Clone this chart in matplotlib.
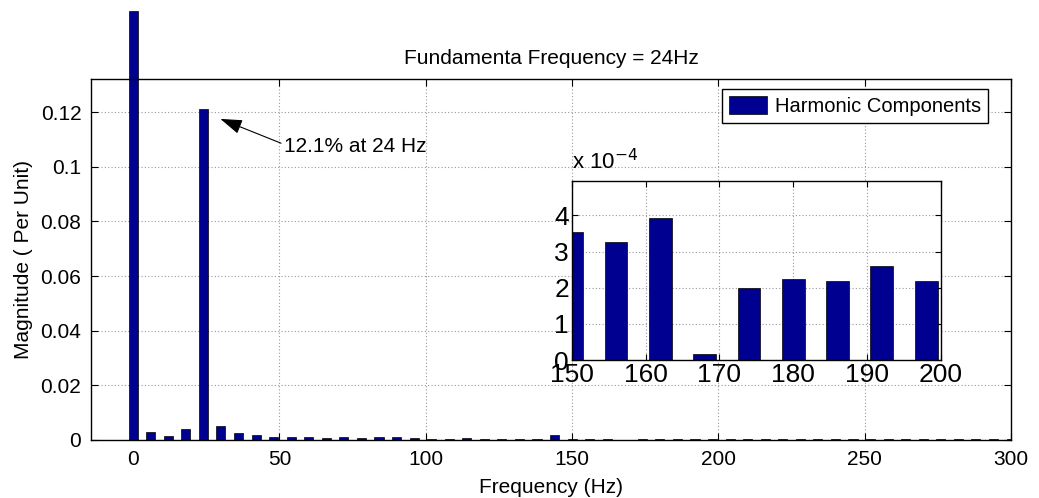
import matplotlib
matplotlib.use("Agg")
import matplotlib.pyplot as plt
import numpy as np

plt.rcParams['font.family'] = ['Liberation Sans', 'DejaVu Sans']

# Spectrum of the measured signal, 6 Hz resolution (per-unit magnitudes)
freq_hz = np.arange(0, 301, 6)
magnitude_pu = [
    0.157, 0.0030, 0.0016, 0.0040, 0.121, 0.0050, 0.0024, 0.0020, 0.0010, 0.0010,
    0.0010, 0.0006, 0.0010, 0.0006, 0.0010, 0.0010, 0.0006, 0.0005, 0.0005, 0.0006,
    0.0005, 0.0005, 0.0005, 0.0005, 0.0017, 0.000354, 0.000327, 0.000393, 0.000017, 0.000200,
    0.000225, 0.000218, 0.000260, 0.000218, 0.00030, 0.00028, 0.00032, 0.00027, 0.00030, 0.00029,
    0.00031, 0.00028, 0.00030, 0.00027, 0.00029, 0.00030, 0.00028, 0.00031, 0.00029, 0.00028,
    0.00030,
]
x_ticks = [0, 50, 100, 150, 200, 250, 300]
y_ticks = [0, 0.02, 0.04, 0.06, 0.08, 0.1, 0.12]
y_tick_labels = ['0', '0.02', '0.04', '0.06', '0.08', '0.1', '0.12']
inset_x_ticks = [150, 160, 170, 180, 190, 200]
inset_y_ticks = [0, 1e-4, 2e-4, 3e-4, 4e-4]
inset_y_labels = ['0', '1', '2', '3', '4']

bar_color = '#000090'
grid_kw = dict(color='0.6', linestyle=(0, (1, 2)), linewidth=0.8)

fig = plt.figure(figsize=(10.39, 4.98), dpi=100)
ax = fig.add_axes([0.0876, 0.1165, 0.8855, 0.7243])

bars = ax.bar(freq_hz, magnitude_pu, width=3.1, color=bar_color,
              edgecolor='black', linewidth=0.5, label='Harmonic Components',
              zorder=2)
bars[0].set_clip_on(False)

ax.set_xlim(-14.4, 300)
ax.set_ylim(0, 0.132)
ax.set_xticks(x_ticks)
ax.set_yticks(y_ticks)
ax.set_yticklabels(y_tick_labels)
ax.grid(True, **grid_kw)
ax.set_axisbelow(True)
ax.tick_params(direction='in', top=True, right=True, length=5, width=0.8,
               labelsize=15, pad=7)
for s in ax.spines.values():
    s.set_linewidth(1.0)

ax.set_xlabel('Frequency (Hz)', fontsize=15, labelpad=7)
ax.set_ylabel('Magnitude ( Per Unit)', fontsize=15, labelpad=5)
ax.set_title('Fundamenta Frequency = 24Hz', fontsize=15, pad=11)

ax.annotate('12.1% at 24 Hz', xy=(29.8, 0.1175), xytext=(51.5, 0.1075),
            fontsize=15, ha='left', va='center',
            arrowprops=dict(arrowstyle='-|>,head_length=0.9,head_width=0.3',
                            color='black', lw=0.8, relpos=(0, 0.6),
                            shrinkA=0, shrinkB=0))

leg = ax.legend(loc='upper right', bbox_to_anchor=(0.975, 0.972),
                borderaxespad=0, fontsize=14.5, fancybox=False, framealpha=1,
                edgecolor='black', handlelength=1.9, handleheight=1.0,
                handletextpad=0.4, borderpad=0.35)
leg.get_frame().set_linewidth(1.0)

# Zoomed view of the 150-200 Hz band
axin = fig.add_axes([0.5502, 0.2771, 0.3555, 0.3594])
axin.bar(freq_hz, magnitude_pu, width=3.1, color=bar_color,
         edgecolor='black', linewidth=0.5, zorder=2)
axin.set_xlim(150, 200)
axin.set_ylim(0, 4.95e-4)
axin.set_xticks(inset_x_ticks)
axin.set_yticks(inset_y_ticks)
axin.set_yticklabels(inset_y_labels)
axin.grid(True, **grid_kw)
axin.set_axisbelow(True)
axin.tick_params(direction='in', top=True, right=True, length=4, width=0.8,
                 labelsize=19, pad=2)
for s in axin.spines.values():
    s.set_linewidth(1.0)
axin.text(0.0, 1.04, r'x 10$^{-4}$', transform=axin.transAxes,
          fontsize=16, ha='left', va='bottom')

fig.savefig('out.png', dpi=100)
